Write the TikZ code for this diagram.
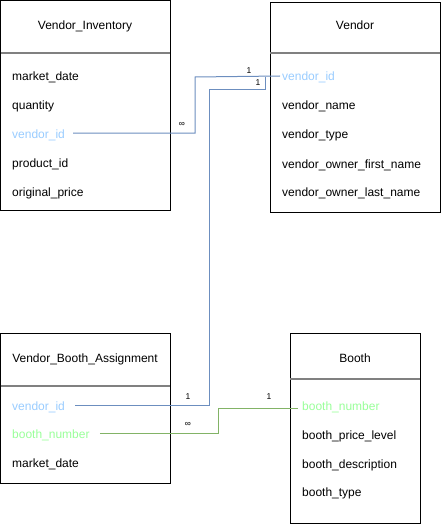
\documentclass[tikz,border=0pt]{standalone}
\usepackage{fontspec}
\setmainfont{Liberation Sans}
\definecolor{bl}{HTML}{6C8EBF}
\definecolor{gr}{HTML}{82B366}
\definecolor{fkb}{HTML}{99CCFF}
\definecolor{fkg}{HTML}{99FF99}
\definecolor{sep}{HTML}{808080}
\begin{document}
\begin{tikzpicture}[x=1pt,y=-1pt,
  tbox/.style={draw=black,line width=1pt},
  sepline/.style={draw=sep,line width=2pt},
  title/.style={inner sep=0pt,font=\fontsize{12}{14}\selectfont,text height=11pt,text depth=1pt},
  field/.style={anchor=west,inner sep=0pt,font=\fontsize{12}{14}\selectfont,text height=11pt,text depth=1pt},
  card/.style={inner sep=0pt,font=\fontsize{8.5}{10}\selectfont},
  bline/.style={draw=bl,line width=1pt},
  gline/.style={draw=gr,line width=1pt}]
\useasboundingbox (0,0) rectangle (442,524);
% Vendor_Inventory
\draw[tbox] (0.5,0.5) rectangle (170,210);
\draw[sepline] (0.5,53) -- (170,53);
\node[title] (vit) at (85,25) {Vendor\_Inventory};
\node[field] (vimd) at (12,76) {market\_date};
\node[field] (viq) at (12,105) {quantity};
\node[field,text=fkb] (vivid) at (12,133) {vendor\_id};
\node[field] (vipid) at (12,162) {product\_id};
\node[field] (viop) at (12,191) {original\_price};
% Vendor
\draw[tbox] (270,3) rectangle (440,212);
\draw[sepline] (270,53) -- (440,53);
\node[title] (vt) at (355,25) {Vendor};
\node[field,text=fkb] (vvid) at (282,76) {vendor\_id};
\node[field] (vvn) at (282,105) {vendor\_name};
\node[field] (vvt) at (282,134) {vendor\_type};
\node[field] (vvf) at (282,163) {vendor\_owner\_first\_name};
\node[field] (vvl) at (282,191) {vendor\_owner\_last\_name};
% Vendor_Booth_Assignment
\draw[tbox] (0.5,333) rectangle (170,483);
\draw[sepline] (0.5,386) -- (170,386);
\node[title] (vbt) at (85,357) {Vendor\_Booth\_Assignment};
\node[field,text=fkb] (vbvid) at (12,405) {vendor\_id};
\node[field,text=fkg] (vbbn) at (12,433) {booth\_number};
\node[field] (vbmd) at (12,462) {market\_date};
% Booth
\draw[tbox] (290,333) rectangle (420,523);
\draw[sepline] (290,379) -- (420,379);
\node[title] (bt) at (355,357) {Booth};
\node[field,text=fkg] (bbn) at (302,405) {booth\_number};
\node[field] (bpl) at (302,434) {booth\_price\_level};
\node[field] (bd) at (302,463) {booth\_description};
\node[field] (bty) at (302,491) {booth\_type};
% connectors
\coordinate (j1) at (195,77);
\draw[bline] ([xshift=8pt]vivid.east) -- (195,133) -- (j1) -- ([xshift=-2pt]vvid.west);
\draw[bline] ([xshift=10pt]vbvid.east) -- (209,405) -- (209,90) -- (265,90) -- (265,77);
\draw[gline] ([xshift=10pt]vbbn.east) -- (218,433) -- (218,408) -- ([xshift=-4pt,yshift=-3pt]bbn.west);
% cardinalities
\node[card] (c1) at (182,124) {∞};
\node[card] (c2) at (249,71) {1};
\node[card] (c3) at (258,83) {1};
\node[card] (c4) at (188,397) {1};
\node[card] (c5) at (188,424) {∞};
\node[card] (c6) at (269,397) {1};
\end{tikzpicture}
\end{document}
